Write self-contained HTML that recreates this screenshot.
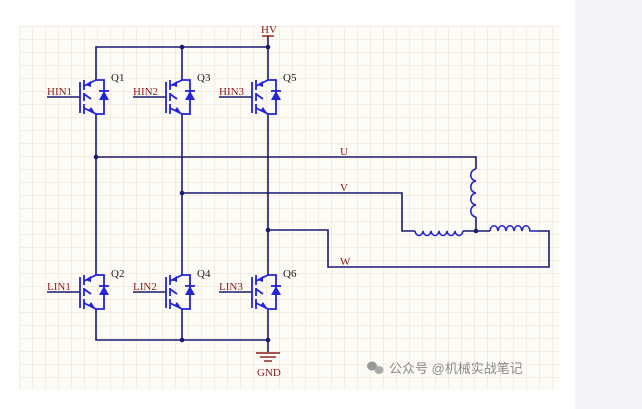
<!DOCTYPE html>
<html><head><meta charset="utf-8"><style>
html,body{margin:0;padding:0;width:642px;height:409px;overflow:hidden;background:#fff}
.cv{position:absolute;left:19px;top:26px;width:540px;height:364px;background-color:#fdfbf6;
background-image:linear-gradient(#f2ece2 1px,transparent 1px),linear-gradient(90deg,#f2ece2 1px,transparent 1px);
background-size:13px 13px}
.rp{position:absolute;left:575px;top:0;width:67px;height:409px;background:#f3f4f8}
svg{position:absolute;left:0;top:0}
</style></head><body>
<div class="cv"></div><div class="rp"></div>
<svg width="642" height="409" viewBox="0 0 642 409">
<defs>
<g id="q">
 <line x1="-49" y1="17" x2="-16" y2="17" stroke="#1a1a6a" stroke-width="1.5"/>
 <g stroke="#2323d8" stroke-width="1.8" fill="none">
  <line x1="-16" y1="2" x2="-16" y2="33"/>
  <line x1="-12" y1="0" x2="-12" y2="10"/>
  <line x1="-12" y1="13" x2="-12" y2="21"/>
  <line x1="-12" y1="24" x2="-12" y2="34"/>
  <line x1="-12" y1="6" x2="0" y2="0"/>
  <line x1="-12" y1="14" x2="-5" y2="19"/>
  <line x1="-12" y1="28" x2="0" y2="34"/>
  <polyline points="0,0 8,0 8,34 0,34"/>
  <line x1="3" y1="11" x2="13" y2="11"/>
 </g>
 <polygon points="-11,5 -5,1 -5,7" fill="#2323d8"/>
 <polygon points="-1,33 -8,31 -5,27" fill="#2323d8"/>
 <polygon points="8,11 3,20 13,20" fill="#2323d8"/>
</g>
</defs>
<g stroke="#1a1a70" stroke-width="1.6" fill="none">
 <polyline points="96,80 96,47 268,47"/>
 <line x1="268" y1="36" x2="268" y2="80"/>
 <line x1="182" y1="47" x2="182" y2="80"/>
 <line x1="96" y1="114" x2="96" y2="275"/>
 <line x1="182" y1="114" x2="182" y2="275"/>
 <line x1="268" y1="114" x2="268" y2="275"/>
 <polyline points="96,309 96,340 268,340"/>
 <line x1="182" y1="309" x2="182" y2="340"/>
 <line x1="268" y1="309" x2="268" y2="352"/>
 <polyline points="96,157 476,157 476,169"/>
 <line x1="476" y1="217" x2="476" y2="231"/>
 <polyline points="182,193 402,193 402,231 415,231"/>
 <line x1="463" y1="231" x2="490" y2="231"/>
 <polyline points="537,231 549,231 549,267 328,267 328,230 268,230"/>
</g>
<g stroke="#2323c8" stroke-width="1.6" fill="none">
 <path d="M476,169 c-7,1 -7,11 0,12 c-7,1 -7,11 0,12 c-7,1 -7,11 0,12 c-7,1 -7,11 0,12"/>
 <path d="M415,231 c1,6 7,6 8,0 c1,6 7,6 8,0 c1,6 7,6 8,0 c1,6 7,6 8,0 c1,6 7,6 8,0 c1,6 7,6 8,0"/>
 <path d="M490,231 c1,-7 7,-7 8,0 c1,-7 7,-7 8,0 c1,-7 7,-7 8,0 c1,-7 7,-7 8,0 c1,-7 7,-7 8,0 l7,0"/>
</g>
<g fill="#1a1a70">
 <circle cx="182" cy="47" r="2.3"/><circle cx="268" cy="47" r="2.3"/>
 <circle cx="96" cy="157" r="2.3"/><circle cx="182" cy="193" r="2.3"/><circle cx="268" cy="230" r="2.3"/>
 <circle cx="476" cy="231" r="2.3"/>
 <circle cx="182" cy="340" r="2.3"/><circle cx="268" cy="340" r="2.3"/>
</g>
<g stroke="#8b1a1a" stroke-width="1.4">
 <line x1="262" y1="36" x2="274" y2="36"/>
 <line x1="256" y1="353" x2="280" y2="353"/>
 <line x1="260" y1="357" x2="276" y2="357"/>
 <line x1="264" y1="361" x2="272" y2="361"/>
</g>
<use href="#q" transform="translate(96,80)"/><use href="#q" transform="translate(182,80)"/><use href="#q" transform="translate(268,80)"/>
<use href="#q" transform="translate(96,275)"/><use href="#q" transform="translate(182,275)"/><use href="#q" transform="translate(268,275)"/>
<g font-family="Liberation Serif,serif" font-size="11" fill="#8b1a1a">
 <text x="47" y="95">HIN1</text><text x="133" y="95">HIN2</text><text x="219" y="95">HIN3</text>
 <text x="47" y="290">LIN1</text><text x="133" y="290">LIN2</text><text x="219" y="290">LIN3</text>
 <text x="261" y="33">HV</text><text x="257" y="376">GND</text>
 <text x="340" y="155">U</text><text x="340" y="191">V</text><text x="340" y="265">W</text>
</g>
<g font-family="Liberation Serif,serif" font-size="11" fill="#1a1a1a">
 <text x="111" y="81">Q1</text><text x="197" y="81">Q3</text><text x="283" y="81">Q5</text>
 <text x="111" y="277">Q2</text><text x="197" y="277">Q4</text><text x="283" y="277">Q6</text>
</g>
<ellipse cx="372" cy="366" rx="5" ry="4.5" fill="#999"/><ellipse cx="379" cy="370" rx="4.5" ry="4" fill="#aaa"/>
<text x="389" y="373" font-family="Liberation Sans,Noto Sans CJK SC,sans-serif" font-size="13" fill="#8a8a8a">公众号 @机械实战笔记</text>
</svg>
</body></html>
